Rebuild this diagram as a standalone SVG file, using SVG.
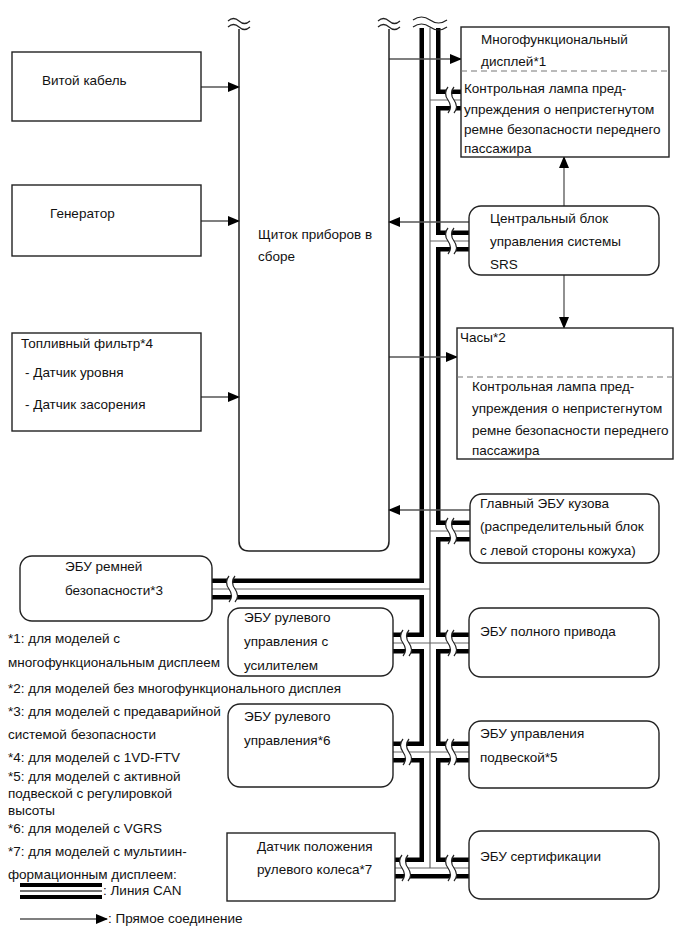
<svg xmlns="http://www.w3.org/2000/svg" xmlns:xlink="http://www.w3.org/1999/xlink" width="689" height="951" viewBox="0 0 689 951">
<style>
text{font-family:"Liberation Sans",Arial,sans-serif;font-size:13.5px;fill:#111}
.box{fill:#fff;stroke:#222;stroke-width:1.4}
.dash{stroke:#777;stroke-width:1.2;stroke-dasharray:6 4;fill:none}
.arr{stroke:#555;stroke-width:1.3;fill:none;marker-end:url(#ah)}
.canK{stroke:#000;stroke-width:21;fill:none}
.canW{stroke:#fff;stroke-width:12;fill:none}
.canT{stroke:#666;stroke-width:1.2;fill:none}
.brkW{fill:#fff;stroke:none}
.brkL{fill:none;stroke:#222;stroke-width:1.2}
.tl{fill:none;stroke:#222;stroke-width:1.2}
</style>
<defs>
<marker id="ah" markerWidth="12" markerHeight="10" refX="11" refY="5" orient="auto" markerUnits="userSpaceOnUse">
<path d="M0,0 L12,5 L0,10 Z" fill="#000"/>
</marker>
<g id="brk">
<path class="brkW" d="M2,-13 Q-3,-7 2,0 T2,13 L8,13 Q13,7 8,0 Q3,-7 8,-13 Z"/>
<path class="brkL" d="M2,-13 Q-3,-7 2,0 T2,13"/>
<path class="brkL" d="M8,-13 Q3,-7 8,0 T8,13"/>
</g>
<g id="tilde">
<path class="tl" d="M-11,0 q5.5,-5 11,0 t11,0"/>
<path class="tl" d="M-11,6 q5.5,-5 11,0 t11,0"/>
</g>
<g id="tildeW">
<path class="tl" d="M-17,0 q8.5,-6 17,0 t17,0"/>
<path class="tl" d="M-17,7 q8.5,-6 17,0 t17,0"/>
</g>
</defs>
<rect width="689" height="951" fill="#fff"/>

<g id="connectors">
<g id="can-bus">
<path class="canK" d="M430,28 V868 M430,100 H461 M430,241 H469 M430,531 H470 M212,589 H430 M393,643 H469 M393,752 H469 M395,868 H469"/>
<path class="canW" d="M430,28 V868 M430,100 H461 M430,241 H469 M430,531 H470 M212,589 H430 M393,643 H469 M393,752 H469 M395,868 H469"/>
<path class="canT" d="M430,28 V868 M430,100 H461 M430,241 H469 M430,531 H470 M212,589 H430 M393,643 H469 M393,752 H469 M395,868 H469"/>
<use xlink:href="#brk" x="446" y="100"/>
<use xlink:href="#brk" x="446" y="241"/>
<use xlink:href="#brk" x="446" y="531"/>
<use xlink:href="#brk" x="227" y="589"/>
<use xlink:href="#brk" x="401" y="643"/>
<use xlink:href="#brk" x="446" y="643"/>
<use xlink:href="#brk" x="401" y="752"/>
<use xlink:href="#brk" x="446" y="752"/>
<use xlink:href="#brk" x="400" y="868"/>
<use xlink:href="#brk" x="446" y="868"/>
<use xlink:href="#tildeW" x="430" y="20"/>
</g>
<path class="arr" d="M201,87 H239"/>
<path class="arr" d="M201,221 H239"/>
<path class="arr" d="M201,397 H239"/>
<path class="arr" d="M389,59 H461"/>
<path class="arr" d="M469,222 H389"/>
<path class="arr" d="M389,357 H457"/>
<path class="arr" d="M470,510 H389"/>
<path class="arr" d="M564,206 V157"/>
<path class="arr" d="M564,275 V328"/>
</g>

<g id="cluster">
<path d="M239,29 V541 Q239,551 249,551 H379 Q389,551 389,541 V29" fill="none" stroke="#222" stroke-width="1.5"/>
<use xlink:href="#tilde" x="239" y="21"/>
<use xlink:href="#tilde" x="389" y="21"/>
<text x="258" y="239">Щиток приборов в</text>
<text x="258" y="261">сборе</text>
</g>

<g id="spiral-cable">
<rect class="box" x="12" y="52" width="189" height="69"/>
<text x="42" y="85">Витой кабель</text>
</g>
<g id="generator">
<rect class="box" x="12" y="185" width="189" height="71"/>
<text x="50" y="218">Генератор</text>
</g>
<g id="fuel-filter">
<rect class="box" x="12" y="333" width="189" height="98"/>
<text x="21" y="348">Топливный фильтр*4</text>
<text x="25" y="377">- Датчик уровня</text>
<text x="25" y="409">- Датчик засорения</text>
</g>

<g id="multi-display">
<rect class="box" x="461" y="27" width="208" height="130"/>
<line class="dash" x1="461" y1="71" x2="669" y2="71"/>
<text x="481" y="44">Многофункциональный</text>
<text x="481" y="66">дисплей*1</text>
<text x="464" y="93">Контрольная лампа пред-</text>
<text x="464" y="114">упреждения о непристегнутом</text>
<text x="464" y="134">ремне безопасности переднего</text>
<text x="464" y="153">пассажира</text>
</g>
<g id="srs">
<rect class="box" x="469" y="206" width="190" height="69" rx="12"/>
<text x="490" y="223">Центральный блок</text>
<text x="490" y="246">управления системы</text>
<text x="490" y="269">SRS</text>
</g>
<g id="clock">
<rect class="box" x="457" y="328" width="216" height="131"/>
<line class="dash" x1="457" y1="377" x2="673" y2="377"/>
<text x="460" y="342">Часы*2</text>
<text x="472" y="391">Контрольная лампа пред-</text>
<text x="472" y="413">упреждения о непристегнутом</text>
<text x="472" y="435">ремне безопасности переднего</text>
<text x="472" y="455">пассажира</text>
</g>
<g id="body-ecu">
<rect class="box" x="470" y="494" width="189" height="69" rx="12"/>
<text x="480" y="508">Главный ЭБУ кузова</text>
<text x="480" y="531">(распределительный блок</text>
<text x="480" y="555">с левой стороны кожуха)</text>
</g>
<g id="seatbelt-ecu">
<rect class="box" x="20" y="556" width="192" height="65" rx="12"/>
<text x="65" y="571">ЭБУ ремней</text>
<text x="65" y="595">безопасности*3</text>
</g>
<g id="eps-ecu">
<rect class="box" x="228" y="608" width="165" height="68" rx="12"/>
<text x="244" y="622">ЭБУ рулевого</text>
<text x="244" y="646">управления с</text>
<text x="244" y="670">усилителем</text>
</g>
<g id="4wd-ecu">
<rect class="box" x="469" y="608" width="190" height="69" rx="12"/>
<text x="480" y="636">ЭБУ полного привода</text>
</g>
<g id="steering-ecu">
<rect class="box" x="228" y="704" width="165" height="83" rx="12"/>
<text x="244" y="721">ЭБУ рулевого</text>
<text x="244" y="745">управления*6</text>
</g>
<g id="suspension-ecu">
<rect class="box" x="469" y="721" width="190" height="67" rx="12"/>
<text x="480" y="738">ЭБУ управления</text>
<text x="480" y="762">подвеской*5</text>
</g>
<g id="steering-sensor">
<rect class="box" x="227" y="833" width="168" height="68"/>
<text x="257" y="851">Датчик положения</text>
<text x="257" y="874">рулевого колеса*7</text>
</g>
<g id="cert-ecu">
<rect class="box" x="469" y="831" width="190" height="68" rx="12"/>
<text x="480" y="861">ЭБУ сертификации</text>
</g>

<g id="notes">
<text x="8" y="643">*1: для моделей с</text>
<text x="8" y="667">многофункциональным дисплеем</text>
<text x="8" y="693">*2: для моделей без многофункционального дисплея</text>
<text x="8" y="716">*3: для моделей с предаварийной</text>
<text x="8" y="739">системой безопасности</text>
<text x="8" y="762">*4: для моделей с 1VD-FTV</text>
<text x="8" y="781">*5: для моделей с активной</text>
<text x="8" y="798">подвеской с регулировкой</text>
<text x="8" y="815">высоты</text>
<text x="8" y="833">*6: для моделей с VGRS</text>
<text x="8" y="856">*7: для моделей с мультиин-</text>
<text x="8" y="879">формационным дисплеем:</text>
</g>
<g id="legend">
<path d="M20,891 H102" stroke="#000" stroke-width="16" fill="none"/>
<path d="M20,891 H102" stroke="#fff" stroke-width="8" fill="none"/>
<path d="M20,891 H102" stroke="#444" stroke-width="1.5" fill="none"/>
<text x="103" y="895">: Линия CAN</text>
<path class="arr" d="M20,919 H107"/>
<text x="108" y="923">: Прямое соединение</text>
</g>
</svg>
